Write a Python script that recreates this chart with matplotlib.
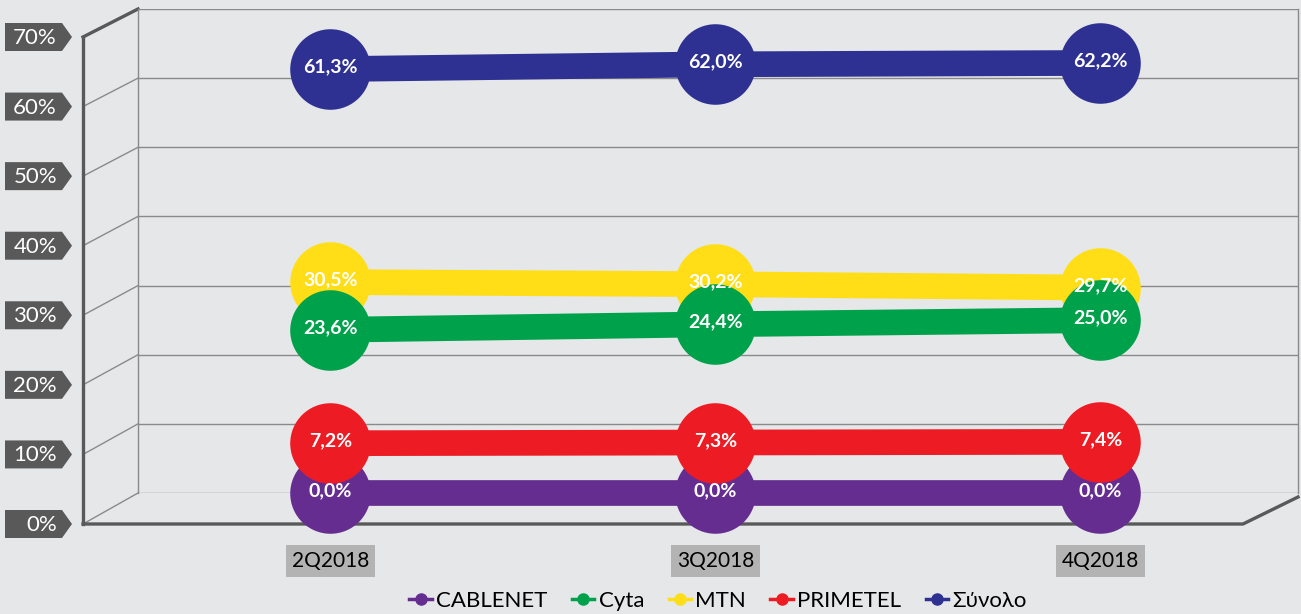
import matplotlib
matplotlib.use("Agg")
import matplotlib.pyplot as plt
from matplotlib.lines import Line2D
from matplotlib.patches import Polygon

plt.rcParams['font.family'] = ['Lato', 'DejaVu Sans']

# dades ------------------------------------------------------------
quarters = ["2Q2018", "3Q2018", "4Q2018"]
series_names = ["CABLENET", "Cyta", "MTN", "PRIMETEL", "Σύνολο"]
cablenet = [0.0, 0.0, 0.0]
cyta = [23.6, 24.4, 25.0]
mtn = [30.5, 30.2, 29.7]
primetel = [7.2, 7.3, 7.4]
synolo = [61.3, 62.0, 62.2]
y_ticks = [0, 10, 20, 30, 40, 50, 60, 70]

colors = ["#662d91", "#00a14b", "#ffde17", "#ed1c24", "#2e3192"]
values = [cablenet, cyta, mtn, primetel, synolo]
zorders = [3, 5, 4, 6, 6]

W, H = 1301, 614
bg = "#e6e7e8"
dark = "#595959"
thin = "#8a8a8a"

fig = plt.figure(figsize=(W / 100, H / 100), dpi=100, facecolor=bg)

# capa de decoracio en pixels
deco = fig.add_axes([0, 0, 1, 1])
deco.set_xlim(0, W)
deco.set_ylim(H, 0)
deco.axis("off")
deco.set_facecolor(bg)

# pared del fons: 0 -> y=493, 70 -> y=9 ; x de 138 a 1298
back_left, back_right, back_bot, back_top = 138, 1298, 493, 9
front_left, front_right, front_bot, front_top = 83, 1243, 524, 37
spacing = 385.0

ax = fig.add_axes([back_left / W, (H - back_bot) / H,
                   (back_right - back_left) / W, (back_bot - back_top) / H])
ax.set_facecolor("none")
ax.set_ylim(0, 70)
ax.set_xlim(-0.5, -0.5 + (back_right - back_left) / spacing)
for s in ["top", "bottom"]:
    ax.spines[s].set_visible(False)
ax.spines["left"].set_color(thin)
ax.spines["right"].set_color(thin)
ax.spines["left"].set_linewidth(1)
ax.spines["right"].set_linewidth(1)
ax.set_yticks(y_ticks)
ax.set_xticks([])
ax.tick_params(left=False, labelleft=False)
ax.grid(axis="y", color=thin, linewidth=1)
ax.set_axisbelow(True)

x = list(range(len(quarters)))
for name, vals, c, z in zip(series_names, values, colors, zorders):
    ax.plot(x, vals, color=c, linewidth=18.5, solid_capstyle="butt",
            marker="o", markersize=58, markeredgewidth=0,
            zorder=z, clip_on=False)
for vals in values:
    for xi, v in zip(x, vals):
        ax.text(xi, v + 0.3, f"{v:.1f}%".replace(".", ","), color="white",
                fontsize=14, fontweight="bold", ha="center", va="center",
                zorder=10)

# etiquetes de categoria
for xi, q in zip(x, quarters):
    ax.text(xi, (back_bot - 561) / (back_bot - back_top), q,
            transform=ax.get_xaxis_transform(), ha="center", va="center",
            fontsize=15, color="black",
            bbox=dict(boxstyle="square,pad=0.3", fc="#b3b3b3", ec="none"))

# marc 3D
def front_y(t):
    return front_bot - t / 70 * (front_bot - front_top)

def back_y(t):
    return back_bot - t / 70 * (back_bot - back_top)

for t in y_ticks:
    deco.plot([front_left, back_left], [front_y(t), back_y(t)],
              color=thin, linewidth=1)
deco.plot([front_left, front_left], [front_top, front_bot], color=dark,
          linewidth=2.4, solid_capstyle="projecting")
deco.plot([front_left, back_left], [front_top, back_top], color=dark,
          linewidth=2.4)
deco.plot([front_left, front_right, back_right],
          [front_bot, front_bot, back_bot + 4], color=dark, linewidth=2.4)

# etiquetes de l'eix y
for t in y_ticks:
    yc = front_y(t)
    poly = Polygon([[5, yc - 14], [62, yc - 14], [72, yc], [62, yc + 14],
                    [5, yc + 14]], closed=True, fc=dark, ec="none")
    deco.add_patch(poly)
    deco.text(57, yc + 1, f"{t}%", color="white", fontsize=16,
              ha="right", va="center")

handles = [Line2D([0], [0], color=c, linewidth=2.5, marker="o",
                  markersize=8) for c in colors]
fig.legend(handles, series_names, loc="center", ncol=5,
           bbox_to_anchor=(718 / W, 1 - 601 / H), frameon=False,
           fontsize=16, handlelength=1.0, handletextpad=0.2,
           columnspacing=1.1, borderaxespad=0)

fig.savefig("out.png", dpi=100, facecolor=bg)
